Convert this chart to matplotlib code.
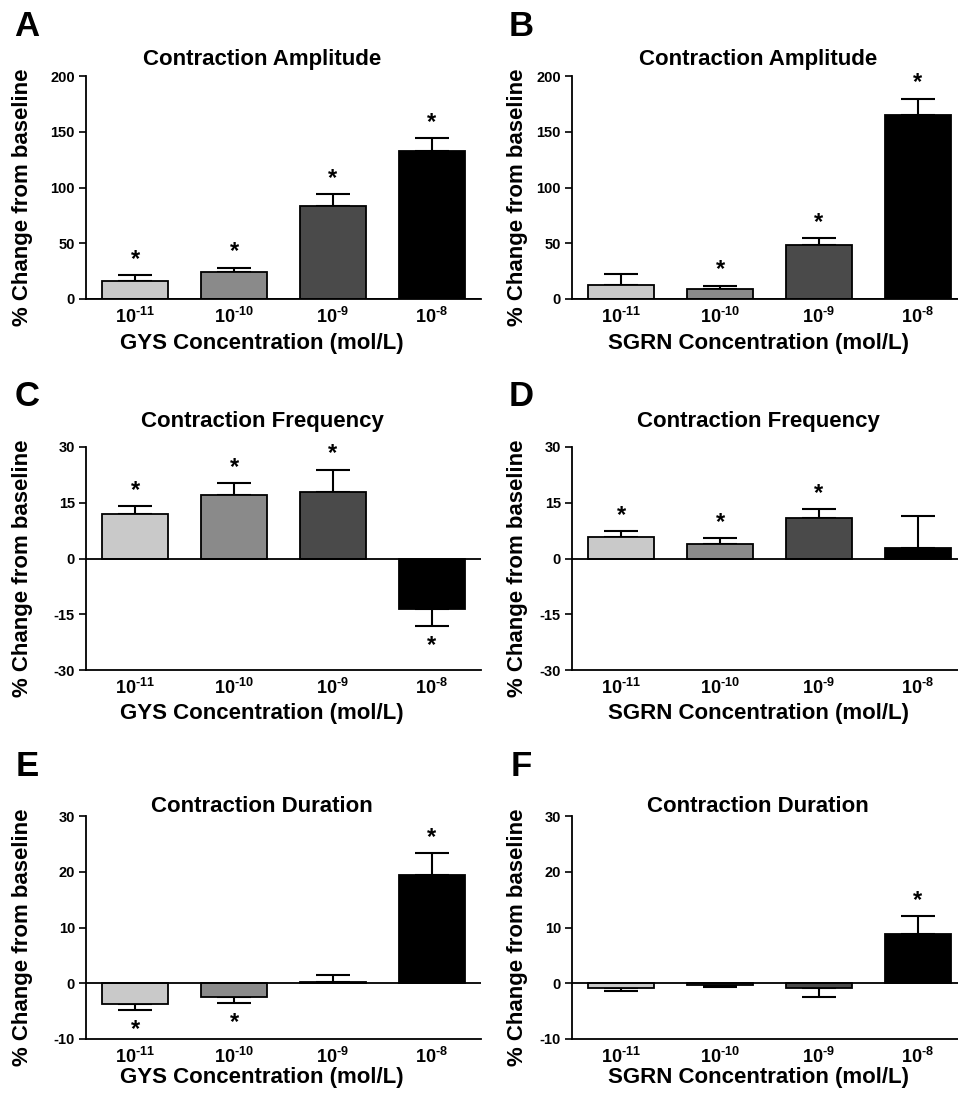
import matplotlib
matplotlib.use('Agg')
from matplotlib import pyplot as plt

plt.rcParams['font.family'] = ['Liberation Sans', 'DejaVu Sans']
plt.rcParams['font.weight'] = 'bold'
plt.rcParams['axes.unicode_minus'] = False
plt.rcParams['mathtext.fontset'] = 'custom'
plt.rcParams['mathtext.rm'] = 'Liberation Sans:bold'
plt.rcParams['mathtext.bf'] = 'Liberation Sans:bold'
plt.rcParams['mathtext.it'] = 'Liberation Sans:bold'

# data
conc_labels = [r'$\mathbf{10^{\text{-11}}}$', r'$\mathbf{10^{\text{-10}}}$',
               r'$\mathbf{10^{\text{-9}}}$', r'$\mathbf{10^{\text{-8}}}$']
bar_colors = ['#c9c9c9', '#8a8a8a', '#4a4a4a', '#000000']

gys_amp = [16.5, 24.2, 83.1, 132.4]
gys_amp_err = [5.0, 3.9, 11.1, 12.0]
gys_amp_sig = [True, True, True, True]

sgrn_amp = [12.6, 9.0, 48.1, 165.3]
sgrn_amp_err = [10.1, 3.0, 6.6, 14.4]
sgrn_amp_sig = [False, True, True, True]

gys_freq = [12.1, 17.1, 18.0, -13.5]
gys_freq_err = [2.1, 3.2, 5.9, 4.7]
gys_freq_sig = [True, True, True, True]

sgrn_freq = [5.8, 3.9, 10.8, 2.7]
sgrn_freq_err = [1.5, 1.5, 2.5, 8.8]
sgrn_freq_sig = [True, True, True, False]

gys_dur = [-3.8, -2.5, 0.2, 19.5]
gys_dur_err = [1.0, 1.0, 1.3, 3.8]
gys_dur_sig = [True, True, False, True]

sgrn_dur = [-0.8, -0.3, -0.9, 8.8]
sgrn_dur_err = [0.6, 0.4, 1.6, 3.2]
sgrn_dur_sig = [False, False, False, True]

W, H = 958, 1098
fig = plt.figure(figsize=(W / 100, H / 100), dpi=100)


def px(x, y):
    return x / W, 1 - y / H


def panel(left, top, bottom, vals, errs, sig, ylim, yticks, title, xlabel, letter,
          title_y, xlab_y, lab_x, col_center):
    ax = fig.add_axes([left / W, 1 - bottom / H, 395 / W, (bottom - top) / H])
    xs = range(len(vals))
    lo = [e if v < 0 else 0 for v, e in zip(vals, errs)]
    hi = [0 if v < 0 else e for v, e in zip(vals, errs)]
    ax.errorbar(xs, vals, yerr=[lo, hi], fmt='none', ecolor='black', elinewidth=1.5,
                capsize=12, capthick=1.5, zorder=1)
    ax.bar(xs, vals, width=0.67, color=bar_colors, edgecolor='black', linewidth=1.3, zorder=2)
    for x, v, e, s in zip(xs, vals, errs, sig):
        if not s:
            continue
        if v >= 0:
            ax.annotate('*', (x, v + e), xytext=(0, 3), textcoords='offset points',
                        ha='center', va='bottom', fontsize=17, fontweight='bold')
        else:
            ax.annotate('*', (x, v - e), xytext=(0, -6), textcoords='offset points',
                        ha='center', va='top', fontsize=17, fontweight='bold')
    ax.axhline(0, color='black', linewidth=1.3, zorder=3)
    ax.set_xlim(-0.5, 3.5)
    ax.set_ylim(*ylim)
    ax.set_yticks(yticks)
    ax.set_yticklabels([str(t) for t in yticks], fontsize=10.5, fontweight='bold')
    ax.set_xticks(list(xs))
    ax.set_xticklabels(conc_labels, fontsize=13)
    ax.tick_params(axis='x', length=0, pad=6)
    ax.tick_params(axis='y', length=5, width=1.2, pad=3)
    for sp in ['top', 'right']:
        ax.spines[sp].set_visible(False)
    for sp in ['left', 'bottom']:
        ax.spines[sp].set_linewidth(1.3)
    fig.text(*px(col_center, title_y), title, ha='center', va='center', fontsize=16, fontweight='bold')
    fig.text(*px(col_center, xlab_y), xlabel, ha='center', va='center', fontsize=16, fontweight='bold')
    fig.text(*px(lab_x, (top + bottom) / 2 + 10), '% Change from baseline', rotation=90,
             ha='center', va='center', fontsize=16, fontweight='bold')
    fig.text(*px(lab_x + 4, top - 50), letter, ha='center', va='center', fontsize=25, fontweight='bold')
    return ax


panel(86, 76, 299, gys_amp, gys_amp_err, gys_amp_sig, (0, 200), [0, 50, 100, 150, 200],
      'Contraction Amplitude', 'GYS Concentration (mol/L)', 'A', 60, 343, 23, 262)
panel(572, 76, 299, sgrn_amp, sgrn_amp_err, sgrn_amp_sig, (0, 200), [0, 50, 100, 150, 200],
      'Contraction Amplitude', 'SGRN Concentration (mol/L)', 'B', 60, 343, 517, 758)
panel(86, 447, 670, gys_freq, gys_freq_err, gys_freq_sig, (-30, 30), [-30, -15, 0, 15, 30],
      'Contraction Frequency', 'GYS Concentration (mol/L)', 'C', 422, 714, 23, 262)
panel(572, 447, 670, sgrn_freq, sgrn_freq_err, sgrn_freq_sig, (-30, 30), [-30, -15, 0, 15, 30],
      'Contraction Frequency', 'SGRN Concentration (mol/L)', 'D', 422, 714, 517, 758)
panel(86, 816, 1039, gys_dur, gys_dur_err, gys_dur_sig, (-10, 30), [-10, 0, 10, 20, 30],
      'Contraction Duration', 'GYS Concentration (mol/L)', 'E', 807, 1078, 23, 262)
panel(572, 816, 1039, sgrn_dur, sgrn_dur_err, sgrn_dur_sig, (-10, 30), [-10, 0, 10, 20, 30],
      'Contraction Duration', 'SGRN Concentration (mol/L)', 'F', 807, 1078, 517, 758)

fig.savefig('out.png', dpi=100)
